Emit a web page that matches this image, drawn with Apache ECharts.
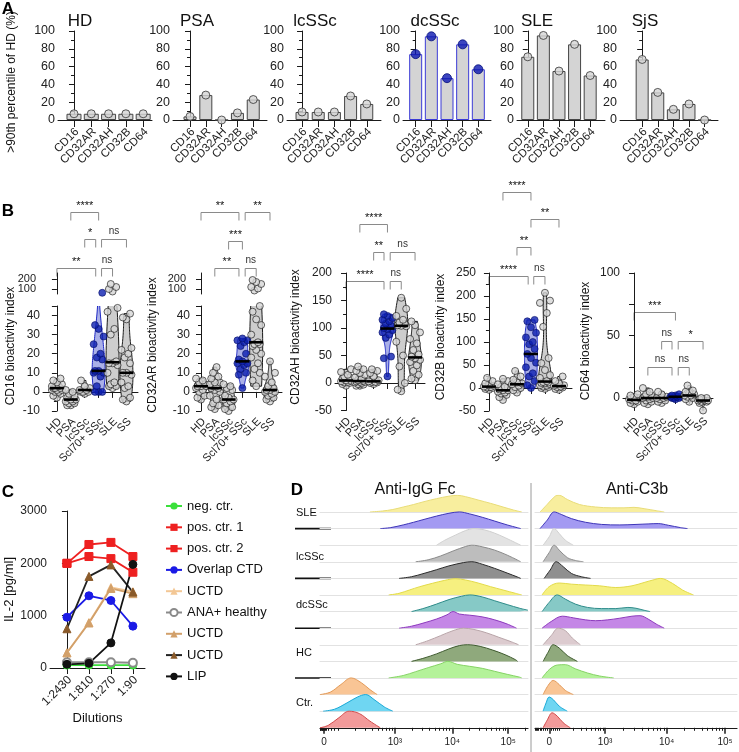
<!DOCTYPE html>
<html>
<head>
<meta charset="utf-8">
<script src="https://cdn.jsdelivr.net/npm/echarts@6/dist/echarts.min.js"></script>
<style>
  html, body { margin: 0; padding: 0; background: #fff; }
  #main { width: 739px; height: 752px; }
</style>
</head>
<body>
<div id="main"></div>
<script>
// ---------- panel A : % above 90th percentile of HD
const aCats = ['CD16', 'CD32AR', 'CD32AH', 'CD32B', 'CD64'];
const aTitles = ['HD', 'PSA', 'lcSSc', 'dcSSc', 'SLE', 'SjS'];
const aHD = [7, 7, 7, 7, 7];
const aPSA = [4, 28, 0, 8, 23];
const aLcSSc = [9, 9, 9, 27, 18];
const aDcSSc = [74, 94, 47, 85, 57];
const aSLE = [71, 95, 55, 85, 50];
const aSjS = [68, 31, 12, 18, 0];

// ---------- panel B : bioactivity index per group
const bCats = ['HD', 'PSA', 'lcSSc', 'Scl70+ SSc', 'SLE', 'SS'];
const bUpperTicks = [100, 200];
const cd16 = [
  [7, 6, 5, 4, 3, 3, 2, 2, 1, 1, 0, 0, -1, -2, -3, 2, 1],
  [1, 0, -1, -2, -3, -4, -4, -5, -5, -6, -6, -7, -7],
  [6, 3, 2, 1, 0, 0, -1, 1, 0],
  [62, 35, 33, 29, 25, 20, 18, 17, 11, 11, 10, 10, 8, 3, 0, 0, 0],
  [150, 120, 100, 75, 44, 42, 33, 30, 16, 14, 15, 15, 10, 5, 4, 3, 2, 3],
  [41, 39, 38, 23, 22, 20, 18, 15, 9, 10, 10, 5, 3, 2, -3, -4, -5]
];
const cd32ar = [
  [7, 6, 5, 4, 3, 3, 2, 1, 0, -2, -3, -4, 3],
  [13, 10, 8, 7, 5, 4, 3, 2, 2, 1, 0, -2, -4, -6, -7, -8, -9, 3, 5],
  [4, 3, 2, 1, -2, -4, -4, -5, -6, -8, -9, -10, -3],
  [28, 27, 27, 26, 24, 20, 17, 16, 15, 15, 14, 12, 10, 9, 2],
  [190, 170, 150, 120, 105, 85, 45, 42, 38, 35, 30, 25, 26, 25, 24, 22, 20, 18, 15, 12, 10, 6, 3],
  [16, 10, 8, 5, 3, 2, 1, 1, 0, -1, -2, -3, -4, -5, 0]
];
const cd32ah = [
  [25, 20, 15, 12, 8, 5, 4, 3, 2, 1, 0, -2, -5, 10],
  [30, 25, 22, 18, 15, 10, 8, 5, 3, 2, 1, 0, -2, -3, -5, -5, 2, 4],
  [25, 22, 18, 12, 5, 3, 2, 1, 0, -2, 2],
  [125, 122, 118, 115, 112, 108, 104, 100, 98, 96, 92, 88, 82, 48, 45, 12],
  [155, 135, 122, 115, 110, 107, 104, 105, 103, 75, 50, 30, 0, -15, -12],
  [112, 105, 92, 80, 72, 60, 52, 48, 45, 42, 38, 32, 22, 15, 8, 5]
];
const cd32b = [
  [22, 15, 10, 6, 3, 1, 0, -2, -4, 2, 5],
  [20, 15, 8, 3, 0, -3, -5, -8, -10, -12, -15, -20, -26, -5, 2],
  [37, 25, 18, 12, 8, 5, 2, 0, -5, -10, 10],
  [148, 145, 132, 120, 110, 100, 95, 85, 74, 65, 55, 45, 32, 25, 15, 6, 0],
  [207, 190, 185, 163, 133, 65, 54, 39, 28, 22, 15, 13, 12, 11, 10, 8, 6, 5, 3, 2, 0, -2],
  [25, 15, 10, 6, 3, 1, -2, -4, 2, 5]
];
const cd64 = [
  [3, 2, 1, 0, -2, -3, -4, -5, -2, -1],
  [8, 5, 3, 2, 1, 0, -1, -2, -3, -4, -5, 0, 1],
  [5, 3, 1, 0, -1, -2, -3, -4, 0],
  [3, 2, 1, 1, 0, 0, -1, 1, 2, 0],
  [10, 6, 4, 3, 2, 1, 0, -1, -3, 2, 5],
  [0, -1, -2, -3, -2, -1, -10, 0, -3, -4, -2]
];
const bTitles = ['CD16 bioactivity index', 'CD32AR bioactivity index', 'CD32AH bioactivity index',
  'CD32B bioactivity index', 'CD64 bioactivity index'];
// significance brackets: [from group, to group, height (axis units), label]
const cd16Sig = [[1, 3, 94, '****'], [2, 2.79, 80, '*'], [3.21, 5, 80, 'ns'], [0, 2.79, 65, '**'], [3.21, 4, 65, 'ns']];
const cd32arSig = [[0, 2.75, 94, '**'], [3.2, 5, 94, '**'], [2, 3, 79, '***'], [1, 2.75, 65, '**'], [3.2, 4, 65, 'ns']];
const cd32ahSig = [[1, 3, 289, '****'], [2, 2.75, 238, '**'], [3.2, 5, 238, 'ns'], [0, 2.75, 185, '****'], [3.2, 4, 185, 'ns']];
const cd32bSig = [[1, 3, 426, '****'], [3, 5, 367, '**'], [2, 3, 306, '**'], [0, 2.8, 243, '****'], [3.2, 4, 243, 'ns']];
const cd64Sig = [[0, 3, 69, '***'], [2, 2.75, 46, 'ns'], [3.2, 5, 46, '*'], [1, 2.75, 25, 'ns'], [3.2, 4, 25, 'ns']];

// ---------- panel C : IL-2 release
const cDil = ['1:2430', '1:810', '1:270', '1:90'];
const cNeg = [55, 55, 55, 55];
const cPos1 = [2000, 2360, 2400, 2130];
const cPos2 = [2000, 2130, 2090, 1830];
const cOverlap = [970, 1380, 1290, 800];
const cUctd1 = [290, 870, 1540, 1460];
const cAna = [110, 110, 110, 100];
const cUctd2 = [290, 860, 1520, 1420];
const cUctd3 = [750, 1750, 1970, 1450];
const cLip = [70, 90, 480, 1980];

// ---------- panel D : flow histograms, [channel, relative height] knots
const dGroups = ['SLE', 'lcSSc', 'dcSSc', 'HC', 'Ctr.'];
const iggRows = [
  [[240,0],[300,0.06],[350,0.15],[400,0.3],[450,0.45],[500,0.62],[560,0.8],[620,0.95],[660,1],[700,0.92],[760,0.72],[820,0.52],[880,0.3],[930,0.12],[970,0]],
  [[290,0],[340,0.06],[400,0.22],[450,0.38],[500,0.55],[560,0.75],[620,0.92],[670,1],[720,0.88],[780,0.68],[840,0.45],[900,0.22],[950,0.05],[965,0]],
  [[560,0],[600,0.3],[650,0.6],[700,0.88],[740,1],[790,0.92],[840,0.72],[890,0.45],[940,0.15],[965,0]],
  [[460,0],[520,0.12],[580,0.35],[640,0.65],[700,0.92],[730,1],[780,0.9],[840,0.7],[900,0.4],[950,0.1],[965,0]],
  [[380,0],[440,0.1],[500,0.3],[560,0.52],[620,0.75],[690,0.95],[730,1],[780,0.85],[840,0.6],[900,0.32],[950,0.08],[965,0]],
  [[330,0],[380,0.1],[430,0.3],[480,0.5],[540,0.7],[600,0.88],[650,0.98],[700,0.9],[760,0.72],[820,0.5],[880,0.3],[940,0.1],[970,0]],
  [[440,0],[500,0.2],[560,0.45],[620,0.72],[680,0.92],[720,1],[780,0.88],[840,0.65],[900,0.42],[960,0.2],[1000,0.08]],
  [[380,0],[440,0.12],[500,0.32],[560,0.55],[610,0.8],[640,1],[670,0.85],[720,0.78],[780,0.68],[840,0.5],[900,0.25],[945,0]],
  [[460,0],[520,0.25],[580,0.55],[640,0.85],[690,1],[740,0.92],[800,0.72],[860,0.45],[920,0.18],[955,0]],
  [[440,0],[500,0.2],[560,0.45],[620,0.75],[670,0.95],[710,1],[770,0.9],[830,0.68],[890,0.4],[940,0.1],[950,0]],
  [[330,0],[400,0.15],[460,0.38],[520,0.62],[580,0.85],[615,1],[660,0.82],[720,0.7],[780,0.58],[840,0.4],[900,0.22],[960,0.05],[970,0]],
  [[0,0],[50,0.15],[100,0.6],[150,1],[200,0.7],[240,0.3],[275,0]],
  [[15,0],[70,0.12],[130,0.5],[180,0.85],[220,1],[260,0.7],[310,0.25],[350,0]],
  [[0,0],[40,0.15],[90,0.6],[140,1],[190,0.85],[240,0.4],[290,0]]
];
const c3bRows = [
  [[25,0],[60,0.45],[100,0.95],[120,1],[160,0.75],[220,0.45],[300,0.3],[380,0.25],[440,0.25],[490,0.28],[540,0.2],[600,0.08],[640,0]],
  [[25,0],[60,0.5],[95,1],[130,0.85],[180,0.6],[250,0.38],[330,0.25],[420,0.22],[500,0.25],[560,0.28],[610,0.3],[660,0.2],[720,0.06],[755,0]],
  [[40,0],[70,0.5],[95,1],[120,0.7],[150,0.3],[190,0]],
  [[40,0],[70,0.55],[95,1],[120,0.7],[160,0.25],[200,0.08],[240,0]],
  [[45,0],[75,0.5],[105,1],[140,0.7],[180,0.3],[230,0.1],[275,0]],
  [[35,0],[70,0.5],[120,0.72],[180,0.65],[250,0.6],[320,0.55],[400,0.45],[480,0.55],[540,0.75],[590,0.92],[620,1],[680,0.7],[730,0.3],[785,0]],
  [[35,0],[70,0.55],[110,1],[150,0.75],[200,0.45],[260,0.25],[330,0.18],[400,0.18],[460,0.25],[500,0.2],[540,0.08],[570,0]],
  [[35,0],[80,0.4],[135,0.72],[190,0.62],[250,0.5],[300,0.45],[360,0.5],[420,0.6],[480,0.72],[520,0.75],[560,0.55],[600,0.25],[640,0]],
  [[40,0],[80,0.55],[115,1],[150,0.85],[185,0.4],[225,0]],
  [[40,0],[65,0.55],[90,1],[120,0.8],[160,0.35],[210,0]],
  [[35,0],[70,0.5],[110,0.78],[150,0.8],[200,0.55],[260,0.3],[320,0.12],[390,0]],
  [[40,0],[65,0.55],[90,0.85],[120,0.6],[150,0.25],[190,0]],
  [[40,0],[55,0.5],[70,0.85],[90,0.7],[120,0.3],[160,0]],
  [[40,0],[60,0.45],[85,0.9],[110,0.7],[140,0.3],[175,0]]
];
// axis ticks (display channel) and their labels
const dMajorLabels = ['0', '10³', '10⁴', '10⁵'];
const dLeftMajor = [19, 360, 636, 905];
const dRightMajor = [71, 347, 652, 941];
const dLeftNearZero = [0, 3, 6, 9, 12, 15, 22, 25, 28, 40, 55, 70, 87];
const dRightNearZero = [0, 6, 12, 18, 24, 30, 40, 50, 60, 80, 90, 100, 110, 118];

// ======================================================================
const FONT = 'Arial, "Liberation Sans", "DejaVu Sans", sans-serif';
const INK = '#1a1a1a';
const chart = echarts.init(document.getElementById('main'));
const grids = [], xAxes = [], yAxes = [], series = [], graphics = [];
// packed rotated category labels are placed after layout, at the axis' own tick positions
const labelJobs = [];

function addGrid(g) {
  grids.push(Object.assign({ outerBoundsMode: 'none', containLabel: false }, g));
  return grids.length - 1;
}
function txt(x, y, text, size, extra) {
  graphics.push(Object.assign({
    type: 'text', x, y, silent: true,
    style: { text, fontSize: size, fontFamily: FONT, fill: '#111', align: 'center', verticalAlign: 'middle' }
  }, extra || {}));
}
function median(a) {
  const s = a.slice().sort((p, q) => p - q), m = s.length >> 1;
  return s.length % 2 ? s[m] : (s[m - 1] + s[m]) / 2;
}
function bandwidth(a) {
  const n = a.length, mean = a.reduce((s, v) => s + v, 0) / n;
  const sd = Math.sqrt(a.reduce((s, v) => s + (v - mean) * (v - mean), 0) / (n - 1));
  return Math.max(1.06 * sd * Math.pow(n, -0.2), 0.5);
}
function density(a, y, bw) {
  let s = 0;
  a.forEach(v => { const u = (y - v) / bw; s += Math.exp(-0.5 * u * u); });
  return s;
}
const plain = v => String(v);
const keepAll = { showMinLabel: true, showMaxLabel: true, hideOverlap: false };

// ---------------- panel A
const aValues = [aHD, aPSA, aLcSSc, aDcSSc, aSLE, aSjS];
const aLayout = [ // axis x, width, x-min, x-max, bar width, title centre
  [58, 94, -0.925, 4.51, 15, 80],
  [173, 94, -1.076, 4.87, 13, 197],
  [287, 94, -0.93, 4.88, 13, 315],
  [403, 88, -0.81, 4.81, 13, 435],
  [517, 88, -0.69, 4.95, 13, 537],
  [620, 98, -1.42, 4.86, 13, 645]
];
aValues.forEach((vals, k) => {
  const [left, width, xmin, xmax, bw, tx] = aLayout[k];
  const gi = addGrid({ left, top: 31, width, height: 89 });
  xAxes.push({
    gridIndex: gi, type: 'value', min: xmin, max: xmax, splitLine: { show: false },
    axisLine: { lineStyle: { color: INK } },
    axisTick: { customValues: [0, 1, 2, 3, 4], length: 7, lineStyle: { color: INK } },
    axisLabel: { show: false }
  });
  labelJobs.push({ gi, size: 11.5, dx: 3, dy: 10, rot: Math.PI / 4, align: 'right',
    pts: aCats.map((c, i) => [[i, 0], c]) });
  yAxes.push({
    gridIndex: gi, type: 'value', min: 0, max: 100, interval: 20, splitLine: { show: false },
    axisLine: { show: true, lineStyle: { color: INK } },
    axisTick: { show: true, length: 5, lineStyle: { color: INK } },
    minorTick: { show: true, splitNumber: 2, length: 3, lineStyle: { color: INK } },
    axisLabel: Object.assign({ fontSize: 12.5, margin: 3, color: '#222', fontFamily: FONT, formatter: plain }, keepAll)
  });
  const blue = k === 3;
  const pts = vals.map((v, i) => [i, v]);
  series.push({
    type: 'bar', xAxisIndex: gi, yAxisIndex: gi, barWidth: bw, data: pts, silent: true,
    itemStyle: { color: '#d4d4d4', borderColor: blue ? '#3b3bd6' : '#454545', borderWidth: 1 }
  });
  series.push({
    type: 'scatter', xAxisIndex: gi, yAxisIndex: gi, data: pts, silent: true, z: 3,
    symbolSize: blue ? 9 : 8,
    itemStyle: blue ? { color: '#0b16b0', borderColor: '#05107a', borderWidth: 1 }
                    : { color: '#d4d4d4', borderColor: '#333', borderWidth: 1 }
  });
  txt(tx, 21, aTitles[k], 17);
});
txt(12, 82, '>90th percentile of HD (%)', 12, { rotation: Math.PI / 2 });

// ---------------- panel B
const bData = [cd16, cd32ar, cd32ah, cd32b, cd64];
const bSig = [cd16Sig, cd32arSig, cd32ahSig, cd32bSig, cd64Sig];
const UPPER_TOP = 273, UPPER_H = 21;
const bLayout = [
  { left: 43, width: 95, xmin: -1.0, xmax: 5.83, top: 306, height: 105, min: -10, max: 45, interval: 10,
    labels: [-10, 0, 10, 20, 30, 40], ticks: [-10, 0, 10, 20, 30, 40, 45], upper: [50, 260], tx: 11, ty: 346 },
  { left: 193, width: 89, xmin: -0.58, xmax: 5.87, top: 306, height: 105, min: -10, max: 45, interval: 10,
    labels: [-10, 0, 10, 20, 30, 40], ticks: [-10, 0, 10, 20, 30, 40, 45], upper: [50, 260], tx: 153, ty: 345 },
  { left: 335, width: 90, xmin: -0.8, xmax: 5.72, top: 273, height: 137.5, min: -50, max: 200, interval: 50,
    tx: 296, ty: 337 },
  { left: 479, width: 93, xmin: -0.71, xmax: 5.93, top: 273, height: 138, min: -50, max: 250, interval: 50,
    tx: 441, ty: 337 },
  { left: 623, width: 90, xmin: -0.8, xmax: 5.72, top: 273, height: 137.5, min: -10, max: 100, interval: 50,
    labels: [0, 50, 100], ticks: [0, 25, 50, 75, 100], tx: 586, ty: 341 }
];
const jitter = [0, -0.26, 0.26, -0.13, 0.13, -0.36, 0.36];
const grayDot = { color: '#d6d6d6', borderColor: '#111', borderWidth: 0.8 };
const blueDot = { color: '#0d1fb0', borderColor: '#06106a', borderWidth: 0.8 };
const bLowerGrid = [];

function dots(groups, keep) {
  const out = [];
  groups.forEach((g, i) => {
    g.slice().sort((p, q) => p - q).forEach((v, k) => {
      if (keep(v)) out.push({ value: [i + jitter[k % jitter.length], v], itemStyle: i === 3 ? blueDot : grayDot });
    });
  });
  return out;
}

bData.forEach((groups, b) => {
  const L = bLayout[b];
  const gi = addGrid({ left: L.left, top: L.top, width: L.width, height: L.height });
  bLowerGrid.push(gi);
  xAxes.push({
    gridIndex: gi, type: 'value', min: L.xmin, max: L.xmax, splitLine: { show: false },
    axisLine: { lineStyle: { color: INK } },
    axisTick: { customValues: [0, 1, 2, 3, 4, 5], length: 6, lineStyle: { color: INK } },
    axisLabel: { show: false }
  });
  labelJobs.push({ gi, size: 11, dx: 3, dy: 9, rot: Math.PI / 4, align: 'right',
    pts: bCats.map((c, i) => [[i, L.min], c]) });
  const yAx = {
    gridIndex: gi, type: 'value', min: L.min, max: L.max, interval: L.interval, splitLine: { show: false },
    axisLine: { show: true, lineStyle: { color: INK } },
    axisTick: { show: true, length: 5, lineStyle: { color: INK } },
    minorTick: { show: true, splitNumber: 2, length: 3, lineStyle: { color: INK } },
    axisLabel: Object.assign({ fontSize: 12, margin: 3, color: '#222', fontFamily: FONT, formatter: plain }, keepAll)
  };
  if (L.labels) yAx.axisLabel.customValues = L.labels;
  if (L.ticks) yAx.axisTick.customValues = L.ticks;
  if (b === 4) yAx.minorTick.show = false;
  yAxes.push(yAx);

  const cut = L.upper ? L.max : Infinity;
  // violins
  series.push({
    type: 'custom', xAxisIndex: gi, yAxisIndex: gi, clip: true, silent: true, z: 2,
    data: groups.map((g, i) => [i, Math.min(...g), Math.max(...g)]),
    encode: { x: 0, y: [1, 2] },
    renderItem(params, api) {
      const i = api.value(0), vals = groups[i];
      const lo = Math.min(...vals), hi = Math.max(...vals), bw = bandwidth(vals);
      const n = 60, left = [], right = [], ds = [];
      for (let s = 0; s <= n; s++) ds.push(density(vals, lo + (hi - lo) * s / n, bw));
      const dmax = Math.max(...ds);
      for (let s = 0; s <= n; s++) {
        const p = api.coord([i, lo + (hi - lo) * s / n]);
        const w = 6.5 * ds[s] / dmax;
        left.push([p[0] - w, p[1]]);
        right.push([p[0] + w, p[1]]);
      }
      const blue = i === 3;
      return {
        type: 'polygon', shape: { points: left.concat(right.reverse()) },
        style: { fill: blue ? '#aab0e8' : '#cdcdcd', stroke: blue ? '#1c26c4' : '#1a1a1a', lineWidth: 1 }
      };
    }
  });
  series.push({
    type: 'scatter', xAxisIndex: gi, yAxisIndex: gi, symbolSize: 7, z: 3, silent: true,
    data: dots(groups, v => v <= cut)
  });
  series.push({
    type: 'custom', xAxisIndex: gi, yAxisIndex: gi, silent: true, z: 4,
    data: groups.map((g, i) => [i, median(g)]),
    renderItem(params, api) {
      const p = api.coord([api.value(0), api.value(1)]);
      return { type: 'line', shape: { x1: p[0] - 7, y1: p[1], x2: p[0] + 7, y2: p[1] },
        style: { stroke: '#000', lineWidth: 2.6 } };
    }
  });
  if (L.upper) {
    const gu = addGrid({ left: L.left, top: UPPER_TOP, width: L.width, height: UPPER_H });
    xAxes.push({ gridIndex: gu, type: 'value', min: L.xmin, max: L.xmax, show: false });
    yAxes.push({
      gridIndex: gu, type: 'value', min: L.upper[0], max: L.upper[1], splitLine: { show: false },
      axisLine: { show: true, lineStyle: { color: INK } },
      axisTick: { show: true, customValues: bUpperTicks, length: 5, lineStyle: { color: INK } },
      axisLabel: { show: false }
    });
    // labels of the short upper segment, beside its own axis line
    bUpperTicks.forEach(t => txt(L.left - 7,
      UPPER_TOP + UPPER_H * (L.upper[1] - t) / (L.upper[1] - L.upper[0]), String(t), 11,
      { z: 100, style: { text: String(t), fontSize: 11, fontFamily: FONT, fill: '#222', align: 'right', verticalAlign: 'middle' } }));
    series.push({
      type: 'scatter', xAxisIndex: gu, yAxisIndex: gu, symbolSize: 7, z: 3, silent: true,
      data: dots(groups, v => v > cut)
    });
  }
  txt(L.tx, L.ty, bTitles[b], 12, { rotation: Math.PI / 2 });
});

// ---------------- panel C
const cDefs = [
  ['neg. ctr.', cNeg, 'circle', '#3be03b', '#3be03b'],
  ['pos. ctr. 1', cPos1, 'rect', '#ee2020', '#ee2020'],
  ['pos. ctr. 2', cPos2, 'rect', '#ee2020', '#ee2020'],
  ['Overlap CTD', cOverlap, 'circle', '#1a1ae6', '#1a1ae6'],
  ['UCTD', cUctd1, 'triangle', '#f3c795', '#f3c795'],
  ['ANA+ healthy', cAna, 'emptyCircle', '#8a8a8a', '#8a8a8a'],
  ['UCTD ', cUctd2, 'triangle', '#d2a06a', '#d2a06a'],
  ['UCTD  ', cUctd3, 'triangle', '#8a5a2a', '#222'],
  ['LIP', cLip, 'circle', '#111', '#111']
];
const gc = addGrid({ left: 50, top: 511, width: 95, height: 157 });
xAxes.push({
  gridIndex: gc, type: 'value', min: -0.77, max: 3.55, splitLine: { show: false },
  axisLine: { lineStyle: { color: INK } },
  axisTick: { customValues: [0, 1, 2, 3], length: 6, lineStyle: { color: INK } },
  axisLabel: { show: false },
  name: 'Dilutions', nameLocation: 'middle', nameGap: 44,
  nameTextStyle: { fontSize: 13, color: '#111', fontFamily: FONT }
});
labelJobs.push({ gi: gc, size: 12, dx: 3, dy: 10, rot: Math.PI / 4, align: 'right',
  pts: cDil.map((c, i) => [[i, 0], c]) });
yAxes.push({
  gridIndex: gc, type: 'value', min: 0, max: 3000, interval: 1000, splitLine: { show: false },
  axisLine: { show: true, lineStyle: { color: INK } },
  axisTick: { show: true, length: 5, lineStyle: { color: INK } },
  axisLabel: Object.assign({ fontSize: 12, margin: 3, color: '#222', fontFamily: FONT, formatter: plain }, keepAll),
  name: 'IL-2 [pg/ml]', nameLocation: 'middle', nameGap: 33,
  nameTextStyle: { fontSize: 13, color: '#111', fontFamily: FONT }
});
cDefs.forEach(([name, vals, sym, col, lineCol]) => {
  series.push({
    type: 'line', name, xAxisIndex: gc, yAxisIndex: gc, data: vals.map((v, i) => [i, v]),
    symbol: sym, symbolSize: 8, silent: true,
    itemStyle: { color: col, borderColor: col },
    lineStyle: { color: lineCol, width: 1.8 }
  });
});

// ---------------- panel D
const dFill = ['#f8ee9e', '#a39af2', '#e3e3e3', '#bdbdbd', '#8f8f8f', '#f6f080', '#86c9c6',
  '#c487e6', '#dccbcf', '#8fa97c', '#b4f29a', '#f9c595', '#6fd6f2', '#f29a9a'];
const dLine = ['#e8dc78', '#3d34b8', '#d0d0d0', '#8a8a8a', '#2a2a2a', '#e2da4a', '#2f8c8a',
  '#8d3bbd', '#b8a4a8', '#3e5a2e', '#86d266', '#e39a58', '#1aa8d6', '#d24a4a'];
function logTicks(a, b) {
  const out = [];
  for (let k = 2; k <= 9; k++) { const v = a + Math.log10(k) * (b - a); if (v <= 1000) out.push(v); }
  return out;
}
function minorSet(nearZero, major) {
  let out = nearZero.slice();
  const lo = nearZero[nearZero.length - 1];
  out = out.concat(logTicks(lo, major[1]), logTicks(major[1], major[2]), logTicks(major[2], major[3]),
    logTicks(major[3], major[3] + (major[3] - major[2])));
  return out;
}
const dPanels = [
  { rows: iggRows, left: 320, width: 208, major: dLeftMajor, minor: minorSet(dLeftNearZero, dLeftMajor) },
  { rows: c3bRows, left: 535, width: 202, major: dRightMajor, minor: minorSet(dRightNearZero, dRightMajor) }
];
dPanels.forEach(P => {
  P.rows.forEach((knots, r) => {
    const base = 512 + r * 16.6;
    const gi = addGrid({ left: P.left, top: base - 17, width: P.width, height: 17 });
    const last = r === P.rows.length - 1;
    xAxes.push({
      gridIndex: gi, type: 'value', min: 0, max: 1000, splitLine: { show: false },
      axisLine: { show: true, lineStyle: { color: last ? INK : '#e2e2e2', width: last ? 1.2 : 1 } },
      axisTick: last ? { show: true, customValues: P.major, length: 6, lineStyle: { color: INK, width: 1.5 } } : { show: false },
      axisLabel: last ? Object.assign({ show: true, customValues: P.major, formatter: v => dMajorLabels[P.major.indexOf(v)],
        fontSize: 10, margin: 9, color: '#222', fontFamily: FONT }, keepAll) : { show: false }
    });
    yAxes.push({ gridIndex: gi, type: 'value', min: 0, max: 1.02, show: false });
    series.push({
      type: 'line', xAxisIndex: gi, yAxisIndex: gi, data: knots, smooth: 0.35, showSymbol: false,
      silent: true, lineStyle: { color: dLine[r], width: 1 }, areaStyle: { color: dFill[r], opacity: 1 }
    });
  });
  // minor ticks on the bottom axis
  const gm = addGrid({ left: P.left, top: 512 + 13 * 16.6 - 17, width: P.width, height: 17 });
  xAxes.push({
    gridIndex: gm, type: 'value', min: 0, max: 1000, splitLine: { show: false },
    axisLine: { show: false }, axisLabel: { show: false },
    axisTick: { show: true, customValues: P.minor, length: 3, lineStyle: { color: INK, width: 1 } }
  });
  yAxes.push({ gridIndex: gm, type: 'value', min: 0, max: 1, show: false });
});
txt(415, 490, 'Anti-IgG Fc', 16);
txt(637, 490, 'Anti-C3b', 16);
graphics.push({ type: 'line', silent: true, shape: { x1: 531, y1: 483, x2: 531, y2: 752 },
  style: { stroke: '#9a9a9a', lineWidth: 1 } });
const dLabelY = [513, 557, 605, 653, 703];
dGroups.forEach((g, k) => txt(296, dLabelY[k], g, 11, { style: { text: g, fontSize: 11, fontFamily: FONT,
  fill: '#111', align: 'left', verticalAlign: 'middle' } }));
[528.6, 578.4, 628.2, 678].forEach(y => graphics.push({ type: 'line', silent: true,
  shape: { x1: 295, y1: y, x2: 331, y2: y }, style: { stroke: '#111', lineWidth: 1.6 } }));

// panel letters
[['A', 8, 9], ['B', 8, 211], ['C', 8, 492], ['D', 297, 490]].forEach(([t, x, y]) =>
  txt(x, y, t, 17, { style: { text: t, fontSize: 17, fontWeight: 'bold', fontFamily: FONT, fill: '#000',
    align: 'center', verticalAlign: 'middle' } }));

chart.setOption({
  animation: false,
  backgroundColor: '#fff',
  textStyle: { fontFamily: FONT },
  grid: grids, xAxis: xAxes, yAxis: yAxes, series,
  legend: {
    orient: 'vertical', left: 160, top: 494, itemWidth: 16, itemHeight: 9, itemGap: 7.3,
    selectedMode: false, data: cDefs.map(d => d[0]), formatter: n => n.trim(),
    textStyle: { fontSize: 13, lineHeight: 14, color: '#111', fontFamily: FONT }
  }
});

// category labels at the tick positions of their axes
labelJobs.forEach(J => J.pts.forEach(([dv, text]) => {
  const p = chart.convertToPixel({ gridIndex: J.gi }, dv);
  graphics.push({ type: 'text', silent: true, x: p[0] + J.dx, y: p[1] + J.dy, rotation: J.rot,
    style: { text, fontSize: J.size, fontFamily: FONT, fill: '#222', align: J.align, verticalAlign: 'middle' } });
}));

// significance brackets, placed through the panel-B axes
bSig.forEach((sigs, b) => {
  const gi = bLowerGrid[b];
  sigs.forEach(([x1, x2, yv, label]) => {
    const p1 = chart.convertToPixel({ gridIndex: gi }, [x1, yv]);
    const p2 = chart.convertToPixel({ gridIndex: gi }, [x2, yv]);
    const y = Math.round(p1[1]) + 0.5;
    graphics.push({ type: 'polyline', silent: true,
      shape: { points: [[p1[0], y + 8], [p1[0], y], [p2[0], y], [p2[0], y + 8]] },
      style: { stroke: '#8a8a8a', lineWidth: 1, fill: null } });
    const isNs = label === 'ns';
    graphics.push({ type: 'text', silent: true, x: (p1[0] + p2[0]) / 2, y: y - (isNs ? 3 : 1),
      style: { text: label, fontSize: isNs ? 10 : 11, fontFamily: FONT, fill: isNs ? '#333' : '#111',
        align: 'center', verticalAlign: 'bottom' } });
  });
});
chart.setOption({ graphic: { elements: graphics } });
</script>
</body>
</html>
